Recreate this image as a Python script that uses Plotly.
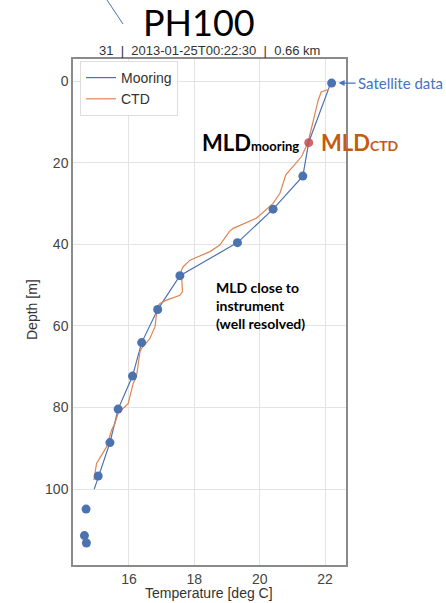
import plotly.graph_objects as go

# Mooring line (interpolated profile)
moor_line_temp = [22.15, 21.5, 21.32, 20.41, 19.32, 17.56, 16.88, 16.39, 16.11, 15.67, 15.42, 15.06, 14.94]
moor_line_depth = [1.0, 15.0, 23.3, 31.4, 39.6, 47.7, 56.0, 64.1, 72.3, 80.4, 88.6, 96.8, 100.0]

# Mooring instrument points (incl. satellite surface point)
moor_pt_temp = [22.2, 21.32, 20.41, 19.32, 17.56, 16.88, 16.39, 16.11, 15.67, 15.42, 15.06, 14.69, 14.64, 14.70]
moor_pt_depth = [0.5, 23.3, 31.4, 39.6, 47.7, 56.0, 64.1, 72.3, 80.4, 88.6, 96.8, 104.9, 111.4, 113.2]

# CTD profile
ctd_temp = [22.12, 21.88, 21.79, 21.59, 21.48, 21.28, 21.18, 20.8, 20.62, 20.41, 19.9, 19.19, 19.07,
            18.78, 18.48, 17.87, 17.66, 17.6, 17.64, 17.56, 17.15, 16.95, 16.87, 16.8, 16.64, 16.39,
            16.34, 16.23, 16.18, 16.13, 15.98, 15.83, 15.67, 15.57, 15.47, 15.32, 15.16, 15.06, 15.01, 14.93]
ctd_depth = [2.0, 2.7, 4.7, 11.6, 15.0, 18.5, 19.4, 23.0, 27.5, 30.0, 33.6, 36.1, 36.9,
             40.2, 41.8, 43.9, 45.5, 46.5, 51.6, 52.5, 53.7, 54.5, 55.3, 60.2, 63.1, 65.5,
             66.3, 72.4, 73.3, 74.1, 79.0, 80.2, 81.4, 83.9, 85.5, 89.6, 91.7, 92.9, 93.7, 97.8]

# MLD marker
mld_temp = [21.5]
mld_depth = [15.1]

x_ticks = [16, 18, 20, 22]
y_ticks = [0, 20, 40, 60, 80, 100]

BLUE = "#4C72B0"
ORANGE = "#DD8452"

W, H = 446, 603
L, R, T, B = 73, 100, 59, 38
PW, PH = W - L - R, H - T - B


def px(xp):
    return (xp - L) / PW


def py(yp):
    return 1 - (yp - T) / PH


fig = go.Figure()
fig.add_trace(go.Scatter(x=moor_line_temp, y=moor_line_depth, mode="lines", name="Mooring",
                         line=dict(color=BLUE, width=1.2)))
fig.add_trace(go.Scatter(x=ctd_temp, y=ctd_depth, mode="lines", name="CTD",
                         line=dict(color=ORANGE, width=1.2)))
fig.add_trace(go.Scatter(x=moor_pt_temp, y=moor_pt_depth, mode="markers", showlegend=False,
                         marker=dict(color=BLUE, size=9)))
fig.add_trace(go.Scatter(x=mld_temp, y=mld_depth, mode="markers", showlegend=False,
                         marker=dict(color="#C44E52", size=9, opacity=0.85)))

axis_common = dict(showgrid=True, gridcolor="#e3e3e3", gridwidth=1, zeroline=False,
                   showline=True, linecolor="#8a8a8a", linewidth=1.5, mirror=True,
                   automargin=False, ticks="",
                   tickfont=dict(family="Liberation Sans, Arial", size=14, color="#444"))

fig.update_layout(
    width=W, height=H,
    margin=dict(l=L, r=R, t=T, b=B, autoexpand=False),
    paper_bgcolor="white", plot_bgcolor="white",
    showlegend=True,
    legend=dict(x=px(80), y=py(61), xanchor="left", yanchor="top",
                entrywidth=66, entrywidthmode="pixels", tracegroupgap=0,
                bgcolor="rgba(255,255,255,0.9)", bordercolor="#dddddd", borderwidth=1,
                font=dict(family="Liberation Sans, Arial", size=14, color="#333")),
    xaxis=dict(range=[14.29, 22.64], tickvals=x_ticks, **axis_common),
    yaxis=dict(range=[118.6, -5.4], tickvals=y_ticks, **axis_common),
)

# Axis titles
fig.add_annotation(text="Temperature [deg C]", xref="paper", yref="paper", x=px(209), y=py(593),
                   showarrow=False, xanchor="center", yanchor="middle",
                   font=dict(family="Liberation Sans, Arial", size=14, color="#333"))
fig.add_annotation(text="Depth [m]", xref="paper", yref="paper", x=px(32), y=py(310), textangle=-90,
                   showarrow=False, xanchor="center", yanchor="middle",
                   font=dict(family="Liberation Sans, Arial", size=14, color="#333"))

# Title and subtitle
fig.add_annotation(text="PH100", xref="paper", yref="paper", x=px(199), y=py(21.5),
                   showarrow=False, xanchor="center", yanchor="middle",
                   font=dict(family="Lato, Open Sans", size=36, color="black"))
fig.add_annotation(text="31  |  2013-01-25T00:22:30  |  0.66 km", xref="paper", yref="paper",
                   x=px(209), y=py(50), showarrow=False, xanchor="center", yanchor="middle",
                   font=dict(family="Liberation Sans, Arial", size=13, color="#333"))
# decorative pointer line at top-left
fig.add_shape(type="line", xref="paper", yref="paper",
              x0=px(107), y0=py(0), x1=px(123), y1=py(24),
              line=dict(color=BLUE, width=1))

# Satellite data annotation
fig.add_annotation(text="Satellite data", x=22.2, y=0.5, ax=24, ay=0, showarrow=True,
                   arrowhead=2, arrowsize=1, arrowwidth=1.2, arrowcolor="#4472C4",
                   xanchor="left", standoff=7,
                   font=dict(family="Lato, Open Sans", size=15, color="#4472C4"))

# MLD labels
fig.add_annotation(text="<b>MLD<span style='font-size:13px'>mooring</span></b>",
                   xref="paper", yref="y", x=px(301), y=15.1, xanchor="right", yanchor="middle",
                   showarrow=False, font=dict(family="Lato, Open Sans", size=22, color="black"))
fig.add_annotation(text="<b>MLD<span style='font-size:14px'>CTD</span></b>",
                   xref="paper", yref="y", x=px(319), y=15.1, xanchor="left", yanchor="middle",
                   showarrow=False, font=dict(family="Lato, Open Sans", size=22, color="#C55A11"))

fig.add_annotation(text="<b>MLD close to<br>instrument<br>(well resolved)</b>",
                   xref="paper", yref="paper", x=px(214), y=py(305), xanchor="left", yanchor="middle",
                   align="left", showarrow=False,
                   font=dict(family="Lato, Open Sans", size=14, color="black"))

fig.write_html("out.html", config={"displayModeBar": False},
               post_script="document.body.style.margin='0';document.body.style.overflow='hidden';")
